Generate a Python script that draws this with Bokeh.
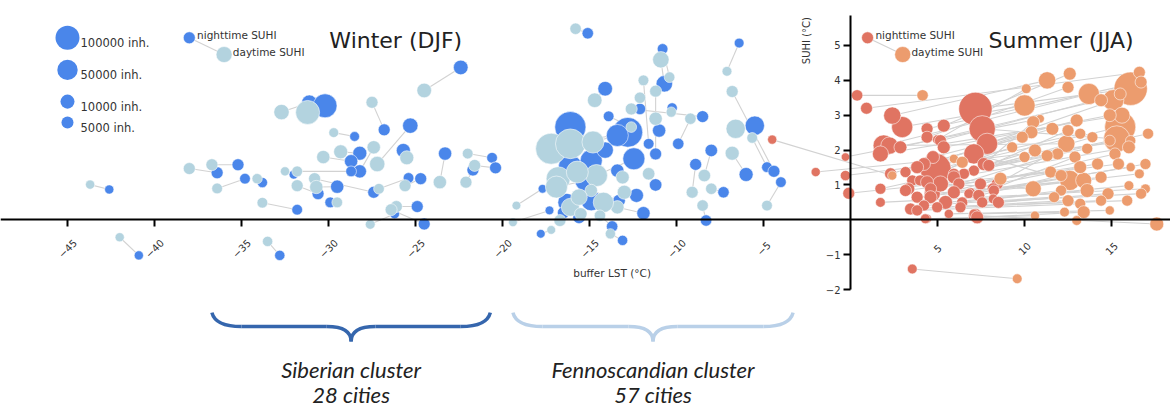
import math
from bokeh.plotting import figure
from bokeh.models import Range1d, LinearAxis, FixedTicker, Label, ColumnDataSource
from bokeh.core.properties import value
from bokeh.embed import file_html
from bokeh.resources import INLINE

# ---------------- data ----------------
# Winter (DJF): nighttime / daytime buffer LST and SUHI per city, population
w_night_lst = [-42.6, -40.9, -36.4, -35.2, -34.8, -33.8, -31.8, -32.8, -31.1, -30.2,
               -26.8, -22.4, -28.5, -28.2, -28.7, -28.2, -28.7, -25.3, -25.7, -23.3,
               -20.6, -20.4, -21.7, -24.7, -25.4, -27.4, -30.6, -29.9, -24.9, -24.5,
               -26.2, -29.5, -32.0,
               -15.1, -10.8, -10.7, -11.6, -6.4, -5.5, -4.8, -4.4, -4.0, -6.0,
               -14.1, -13.9, -16.1, -12.8, -13.4, -12.1, -11.0, -10.25, -11.2, -9.9,
               -12.45, -8.5, -8.0, -8.9, -7.3, -8.3, -13.4, -11.2, -12.3, -11.9,
               -13.1, -17.7, -17.3, -17.8, -16.1, -14.9, -15.2, -16.3, -14.9, -13.3,
               -15.6, -13.7, -14.1, -16.5]
w_night_suhi = [0.87, -1.02, 1.35, 1.58, 1.18, 1.07, 0.29, -1.02, 3.36, 3.27,
                2.58, 4.37, 2.39, 1.91, 1.68, 1.39, 1.39, 2.70, 1.99, 1.90,
                1.78, 1.49, 1.43, 1.18, 1.20, 0.79, 0.75, 0.50, 0.38, -0.12,
                0.17, 0.95, 1.30,
                5.35, 4.90, 3.90, 2.18, 5.07, 2.70, 1.51, 1.39, 1.08, 1.30,
                3.76, 2.97, 2.66, 2.51, 2.42, 3.18, 2.56, 3.21, 1.89, 2.18,
                1.75, 2.96, 1.99, 1.59, 0.79, -0.02, 1.41, 1.00, 0.70, 0.19,
                -0.59, 0.89, 0.27, -0.40, 1.51, 1.70, 1.13, 0.50, 0.55, 0.55,
                0.07, -0.19, 2.00, 0.20]
w_day_lst = [-43.7, -42.0, -38.0, -36.7, -36.4, -34.1, -33.8, -33.5, -32.7, -31.2,
             -27.5, -24.5, -29.7, -29.3, -30.3, -27.4, -31.8, -27.2, -25.5, -23.6,
             -22.0, -21.6, -22.1, -25.6, -27.1, -30.8, -31.8, -29.5, -26.1, -26.4,
             -27.6, -30.7, -32.5,
             -15.8, -10.4, -10.9, -11.9, -7.1, -6.6, -5.65, -6.8, -4.8, -6.8,
             -14.7, -12.6, -17.2, -16.1, -14.8, -12.1, -11.2, -10.3, -11.2, -9.2,
             -14.6, -12.6, -8.4, -9.1, -8.0, -8.5, -13.1, -11.6, -13.0, -13.4,
             -13.8, -19.2, -19.4, -17.2, -16.8, -15.7, -16.9, -16.1, -14.2, -14.9,
             -15.5, -14.4, -15.6, -16.7]
w_day_suhi = [1.01, -0.50, 1.47, 1.58, 0.90, 1.18, 0.49, -0.62, 3.09, 3.08,
              3.37, 3.71, 2.50, 1.95, 1.80, 2.08, 1.39, 1.60, 1.78, 1.08,
              1.90, 1.56, 1.08, 0.98, 0.89, 1.18, 0.98, 0.50, 0.38, 0.29,
              -0.13, 0.94, 1.39,
              5.48, 4.09, 4.59, 4.00, 4.26, 2.61, 2.35, 3.68, 0.41, 1.91,
              3.43, 2.66, 2.04, 2.18, 2.23, 3.50, 2.90, 3.09, 3.69, 2.90,
              1.27, 3.18, 1.27, 0.79, 0.89, 0.41, 1.22, 1.32, 0.79, 0.36,
              -0.40, 0.41, -0.07, -0.29, 1.18, 1.37, 0.94, 0.36, 0.50, 0.84,
              0.17, 0.12, 0.65, -0.02]
w_pop = [1500, 1500, 5000, 5000, 3000, 2500, 3000, 2500, 15000, 100000,
         5000, 12000, 2000, 10000, 8000, 8000, 3000, 15000, 10000, 8000,
         3000, 5000, 5000, 5000, 3000, 5000, 5000, 3000, 5000, 5000,
         2000, 8000, 1500,
         4000, 3000, 20000, 3000, 2000, 40000, 3000, 5000, 3000, 10000,
         12000, 3000, 300000, 250000, 70000, 4000, 8000, 2500, 5000, 4000,
         70000, 5000, 6000, 5000, 4000, 4000, 8000, 6000, 10000, 8000,
         2500, 1200, 1200, 1200, 100000, 70000, 70000, 30000, 50000, 6000,
         6000, 4000, 20000, 5000]

# Summer (JJA)
s_night_lst = [0.38, 7.18, 4.89, 7.57, 2.97, 1.91, 7.85, 7.09, 2.40, 2.24,
               1.72, 4.70, 5.17, 3.55, -4.50, -2.00, 7.18,
               0.92, 5.36, 4.40, 4.40, 5.00, 5.17, 2.87, 5.36, -0.29, 4.74,
               7.66, 4.22, 7.95, 3.83, 7.09, 3.16, 2.30, 6.52, 5.94, -0.29,
               5.94, 3.55, 4.00, 4.40, 7.47, 6.23, 8.43, 1.72, 8.20, 3.35,
               4.60, 3.16, 8.24, 5.94, 6.90, -0.10, 6.80, 7.37, 3.83, 4.60,
               8.20, 1.72, 5.46, 6.42, 7.57, 8.50, 4.22, 4.98, 6.32, 3.45,
               3.83, 5.65, 7.09, 7.28, 4.40, 4.30]
s_night_suhi = [3.57, 3.18, 1.46, 2.61, 2.66, 2.13, 2.18, 1.89, 2.99, 2.13,
                1.89, 0.75, 1.03, -1.41, 2.30, 1.37, 0.12,
                3.20, 2.70, 2.61, 2.37, 2.30, 2.27, 2.08, 2.08, 1.80, 1.80,
                1.60, 1.60, 1.56, 1.51, 1.41, 1.37, 1.32, 1.32, 1.32, 1.27,
                1.22, 1.13, 1.13, 1.08, 1.03, 1.03, 1.03, 0.89, 0.89, 0.89,
                0.89, 0.84, 0.84, 0.79, 0.79, 0.76, 0.75, 0.70, 0.65, 0.65,
                0.60, 0.50, 0.50, 0.50, 0.50, 0.50, 0.41, 0.36, 0.36, 0.31,
                0.27, 0.17, 0.17, 0.07, 0.03, 0.03]
s_day_lst = [4.14, 16.1, 15.5, 15.3, 10.0, 13.7, 15.1, 12.6, 11.3, 12.4,
             15.6, 13.4, 10.5, 9.58, 2.40, 5.94, 17.6,
             16.6, 12.6, 16.7, 12.5, 10.1, 15.5, 14.4, 14.9, 10.9, 13.0,
             10.5, 11.6, 12.5, 10.4, 17.1, 13.2, 9.87, 13.9, 14.9, 16.1,
             16.0, 9.29, 13.6, 10.6, 15.2, 11.9, 11.3, 10.0, 12.9, 6.42,
             14.2, 15.4, 16.95, 13.2, 16.1, 11.5, 16.6, 12.1, 14.4, 8.62,
             16.0, 16.95, 13.6, 12.1, 16.7, 14.8, 11.7, 15.9, 14.4, 12.5,
             13.2, 14.9, 12.3, 13.4, 10.6, 13.0]
s_day_suhi = [3.57, 3.76, 2.66, 2.32, 3.28, 3.61, 3.43, 1.13, 4.00, 2.18,
              3.00, 1.13, 0.89, -1.69, 1.27, 1.75, -0.12,
              4.23, 4.19, 3.95, 3.80, 3.76, 3.61, 3.43, 3.00, 2.90, 2.85,
              2.80, 2.61, 2.56, 2.51, 2.47, 2.47, 2.37, 2.37, 2.27, 2.27,
              2.08, 2.08, 2.04, 1.99, 1.89, 1.89, 1.84, 1.80, 1.80, 1.65,
              1.60, 1.60, 1.60, 1.51, 1.51, 1.37, 1.32, 1.27, 1.22, 1.18,
              0.98, 0.89, 0.84, 0.84, 0.75, 0.75, 0.65, 0.55, 0.55, 0.55,
              0.46, 0.27, 0.22, 0.22, 0.12, -0.02]
s_pop = [4000, 400000, 300000, 150000, 60000, 60000, 60000, 50000, 25000, 25000,
         18000, 18000, 18000, 2000, 1500, 1500, 10000,
         5000, 7000, 5000, 5000, 2000, 5000, 7000, 7000, 1000, 7000,
         7000, 7000, 5000, 7000, 3500, 3500, 5000, 3500, 3500, 2500,
         7000, 3500, 3500, 7000, 5000, 5000, 5000, 3500, 5000, 5000,
         5000, 5000, 3500, 7000, 1500, 5000, 2000, 5000, 5000, 7000,
         2000, 2000, 10000, 3500, 3500, 5000, 3500, 3500, 3500, 5000,
         3500, 1500, 2000, 7000, 1500, 2000]

legend_pops = [100000, 50000, 10000, 5000]
legend_pop_labels = ["100000 inh.", "50000 inh.", "10000 inh.", "5000 inh."]

x_ticks = [-45, -40, -35, -30, -25, -20, -15, -10, -5, 5, 10, 15]
y_ticks = [-2, -1, 1, 2, 3, 4, 5]

cluster_names = ["Siberian cluster", "Fennoscandian cluster"]
cluster_counts = ["28 cities", "57 cities"]
cluster_lst_min = [-36.7, -19.4]
cluster_lst_max = [-20.7, -3.3]

# ---------------- styles ----------------
C_WN = "#4a86ea"   # winter night
C_WD = "#b3d3df"   # winter day
C_SN = "#e07462"   # summer night
C_SD = "#ec9c6e"   # summer day
C_LINE = "#d2d2d2"
BRACE_COLORS = ["#3566ad", "#b9d0e8"]
FONT = "DejaVu Sans"


def pop_size(pop):
    return 12 + 1.277 * (pop ** 0.25 - 8.41)


def tick_text(t):
    return "\u2212%d" % -t if t < 0 else "%d" % t


p = figure(width=1170, height=409, x_range=Range1d(-48.85, 18.39),
           y_range=Range1d(-5.44, 6.29), output_backend="svg",
           toolbar_location=None, min_border=0, x_axis_type=None,
           y_axis_type=None, background_fill_color="white",
           border_fill_color="white")
p.outline_line_color = None

# axes crossing at 0
xaxis = LinearAxis(fixed_location=0, ticker=FixedTicker(ticks=x_ticks, minor_ticks=[]))
xaxis.major_label_overrides = {t: "" for t in x_ticks}
yaxis = LinearAxis(fixed_location=0, bounds=(-2, 5.86),
                   ticker=FixedTicker(ticks=y_ticks, minor_ticks=[]))
yaxis.major_label_overrides = {t: tick_text(t) for t in y_ticks}
for ax in (xaxis, yaxis):
    ax.axis_line_width = 2
    ax.axis_line_color = "black"
    ax.major_tick_line_width = 2
    ax.major_tick_line_color = "black"
    ax.major_tick_out = 7
    ax.major_tick_in = 0
    ax.minor_tick_out = 0
    ax.major_label_text_font = FONT
    ax.major_label_text_font_size = "10px"
    ax.major_label_text_color = "#333333"
yaxis.major_label_standoff = 3
p.add_layout(xaxis, "below")
p.add_layout(yaxis, "left")

# rotated x tick labels, centred under their ticks
p.text(x=x_ticks, y=[-0.82] * len(x_ticks), text=[tick_text(t) for t in x_ticks],
       angle=math.pi / 4, text_align="center", text_baseline="middle",
       text_font=value(FONT), text_font_size="10px", text_color="#333333")

# connecting lines
wsrc = ColumnDataSource(dict(nx=w_night_lst, ny=w_night_suhi, dx=w_day_lst,
                             dy=w_day_suhi, s=[pop_size(v) for v in w_pop]))
ssrc = ColumnDataSource(dict(nx=s_night_lst, ny=s_night_suhi, dx=s_day_lst,
                             dy=s_day_suhi, s=[pop_size(v) for v in s_pop]))
p.segment(x0="nx", y0="ny", x1="dx", y1="dy", source=ssrc, line_color=C_LINE, line_width=1.1)
p.segment(x0="nx", y0="ny", x1="dx", y1="dy", source=wsrc, line_color=C_LINE, line_width=1.1)

edge = dict(line_color="white", line_alpha=0.55, line_width=1)
p.scatter(x="nx", y="ny", size="s", source=wsrc, fill_color=C_WN, **edge)
p.scatter(x="dx", y="dy", size="s", source=wsrc, fill_color=C_WD, **edge)
p.scatter(x="nx", y="ny", size="s", source=ssrc, fill_color=C_SN, **edge)
p.scatter(x="dx", y="dy", size="s", source=ssrc, fill_color=C_SD, **edge)

# size legend
leg_y = [5.22, 4.30, 3.39, 2.79]
p.scatter(x=[-45.0] * 4, y=leg_y, size=[pop_size(v) for v in legend_pops],
          fill_color=C_WN, line_color=None)
for lbl, yy in zip(legend_pop_labels, leg_y):
    p.add_layout(Label(x=-44.25, y=yy - 0.15, text=lbl, text_font=FONT,
                       text_font_size="11.5px", text_color="#333333",
                       text_baseline="middle", text_align="left"))


# night/day legends
def night_day_legend(xn, yn, xd, yd, cn, cd):
    p.segment(x0=[xn], y0=[yn], x1=[xd], y1=[yd], line_color=C_LINE, line_width=1.2)
    p.scatter(x=[xn], y=[yn], size=pop_size(5000), fill_color=cn, **edge)
    p.scatter(x=[xd], y=[yd], size=pop_size(18000), fill_color=cd, **edge)
    p.add_layout(Label(x=xn + 0.45, y=yn + 0.09, text="nighttime SUHI", text_font=FONT,
                       text_font_size="10.5px", text_color="#333333",
                       text_baseline="middle"))
    p.add_layout(Label(x=xd + 0.5, y=yd + 0.08, text="daytime SUHI", text_font=FONT,
                       text_font_size="10.5px", text_color="#333333",
                       text_baseline="middle"))


night_day_legend(-38.0, 5.22, -36.0, 4.74, C_WN, C_WD)
night_day_legend(0.98, 5.22, 3.0, 4.74, C_SN, C_SD)

# titles
p.add_layout(Label(x=-29.95, y=5.14, text="Winter (DJF)", text_font=FONT,
                   text_font_size="22px", text_color="#222222", text_baseline="middle"))
p.add_layout(Label(x=7.93, y=5.14, text="Summer (JJA)", text_font=FONT,
                   text_font_size="22px", text_color="#222222", text_baseline="middle"))

# axis titles
p.add_layout(Label(x=-13.7, y=-1.52, text="buffer LST (\u00b0C)", text_font=FONT,
                   text_font_size="10.5px", text_color="#333333",
                   text_align="center", text_baseline="middle"))
p.add_layout(Label(x=-2.55, y=5.14, text="SUHI (\u00b0C)", text_font=FONT,
                   text_font_size="10px", text_color="#333333", angle=math.pi / 2,
                   text_align="center", text_baseline="middle"))

# cluster braces
y_top, y_mid, y_cusp = -2.66, -3.06, -3.49
for name, cnt, x0, x1, col in zip(cluster_names, cluster_counts, cluster_lst_min,
                                  cluster_lst_max, BRACE_COLORS):
    xc = (x0 + x1) / 2
    end_w, cusp_w = 1.7, 1.4
    p.quadratic(x0=[x0, x1, xc - cusp_w, xc + cusp_w],
                y0=[y_top, y_top, y_mid, y_mid],
                x1=[x0 + end_w, x1 - end_w, xc, xc],
                y1=[y_mid, y_mid, y_cusp, y_cusp],
                cx=[x0 + 0.2, x1 - 0.2, xc, xc],
                cy=[y_mid, y_mid, y_mid, y_mid],
                line_color=col, line_width=3.5)
    p.segment(x0=[x0 + end_w, xc + cusp_w], y0=[y_mid, y_mid],
              x1=[xc - cusp_w, x1 - end_w], y1=[y_mid, y_mid],
              line_color=col, line_width=3.5)
    p.add_layout(Label(x=xc, y=-4.3, text=name, text_font="Lato",
                       text_font_style="italic", text_font_size="22px",
                       text_color="#222222", text_align="center",
                       text_baseline="middle"))
    p.add_layout(Label(x=xc, y=-5.0, text=cnt, text_font="Lato",
                       text_font_style="italic", text_font_size="22px",
                       text_color="#222222", text_align="center",
                       text_baseline="middle"))

open("out.html", "w").write(file_html(p, INLINE))
